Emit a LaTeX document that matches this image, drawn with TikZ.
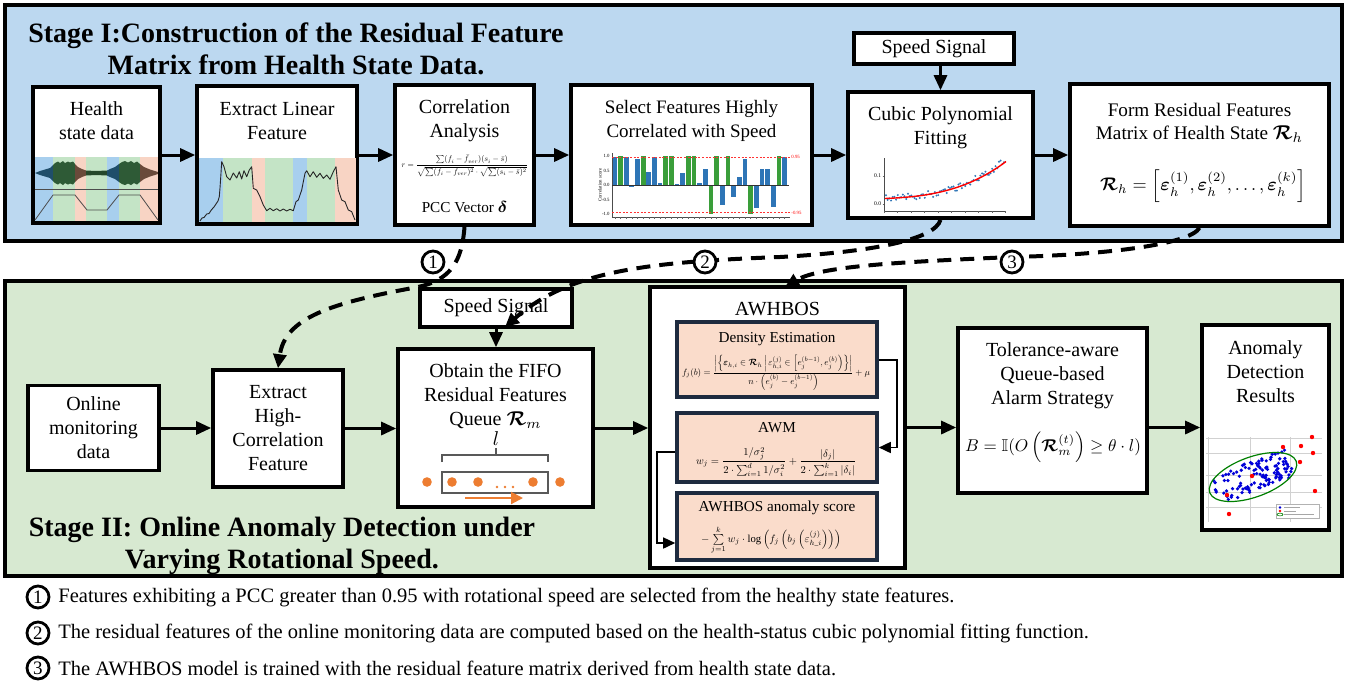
\documentclass[tikz,border=0pt]{standalone}
\usepackage{fontspec}
\setmainfont{Liberation Serif}
\usepackage{amsmath,amssymb,bm,graphicx}
\usetikzlibrary{arrows.meta,calc}

\definecolor{stageone}{HTML}{BCD8F0}
\definecolor{stagetwo}{HTML}{D7E9D1}
\definecolor{peach}{HTML}{FADCCB}
\definecolor{navy}{HTML}{1E2B3F}
\definecolor{bandblue}{HTML}{A8CFEE}
\definecolor{bandgreen}{HTML}{C4E4C6}
\definecolor{bandpink}{HTML}{F8D4C4}
\definecolor{barblue}{HTML}{2E75B6}
\definecolor{bargreen}{HTML}{3A9E3A}
\definecolor{qorange}{HTML}{ED7D31}
\definecolor{waveteal}{HTML}{1F4E6A}
\definecolor{wavegreen}{HTML}{2E5A36}
\definecolor{wavebrown}{HTML}{6A4A3A}

\begin{document}
\begin{tikzpicture}[x=0.5pt,y=-0.5pt,
  stagebox/.style={draw, line width=1.6pt},
  procbox/.style={draw, fill=white, line width=1.8pt, inner sep=0pt, align=center,
                  font=\fontsize{10}{12}\selectfont},
  subbox/.style={draw=navy, fill=peach, line width=1.8pt, inner sep=0pt},
  lbl/.style={align=center, inner sep=0pt, font=\fontsize{10}{12}\selectfont},
  smalllbl/.style={align=center, inner sep=0pt, font=\fontsize{7.6}{9}\selectfont},
  tiny/.style={inner sep=0pt, font=\fontsize{2.4}{2.6}\selectfont},
  arr/.style={line width=1.5pt, -{Triangle[length=7.5pt,width=6.5pt]}},
  thinarr/.style={line width=0.8pt, -{Triangle[length=6pt,width=5.5pt]}},
  dconn/.style={line width=2pt, dash pattern=on 7pt off 4.5pt, -{Triangle[length=7pt,width=6.5pt]}},
  cnum/.style={circle, draw, fill=white, line width=1.4pt, minimum size=11pt, inner sep=0pt,
               font=\fontsize{9.5}{9.5}\selectfont},
  title/.style={align=center, inner sep=0pt, font=\fontsize{14}{16}\selectfont\bfseries},
  foot/.style={anchor=west, inner sep=0pt, font=\fontsize{10.25}{12}\selectfont}
]
\useasboundingbox (0,0) rectangle (1357,682);
\fill[white] (0,0) rectangle (1357,682);

% ---------------- stage frames ----------------
\draw[stagebox, fill=stageone] (5,5) rectangle (1342,241);
\draw[stagebox, fill=stagetwo] (5,281) rectangle (1342,576);

\node[title] (titleone) at (296,49) {Stage I:Construction of the Residual Feature\\Matrix from Health State Data.};
\node[title] (titletwo) at (282,546) {Stage II: Online Anomaly Detection under\\Varying Rotational Speed.};

% ---------------- stage I boxes ----------------
\node[procbox, minimum width=63.5pt, minimum height=68pt] (health) at (96.5,155) {};
\node[procbox, minimum width=80pt, minimum height=69pt] (extract) at (277,155) {};
\node[procbox, minimum width=69.5pt, minimum height=70pt] (corr) at (464.5,155) {};
\node[procbox, minimum width=120.5pt, minimum height=70pt] (select) at (691.5,155) {};
\node[procbox, minimum width=92.5pt, minimum height=63pt] (cubic) at (940.5,155) {};
\node[procbox, minimum width=129.5pt, minimum height=71pt] (form) at (1199.5,155) {};
\node[procbox, minimum width=80pt, minimum height=15.5pt] (speedone) at (934,48.5) {Speed Signal};

\node[lbl] (healthtxt) at (96.5,121) {Health\\state data};
\node[lbl] (extracttxt) at (277,121) {Extract Linear\\Feature};
\node[lbl] (corrtxt) at (464.5,121) {Correlation\\Analysis};
\node[inner sep=0pt] (corrfml) at (464.5,166) {\resizebox{63pt}{!}{$r=\dfrac{\sum(f_i-\bar{f}_{ver})(s_i-\bar{s})}{\sqrt{\sum(f_i-\bar{f}_{ver})^2}\cdot\sqrt{\sum(s_i-\bar{s})^2}}$}};
\node[smalllbl] (pcc) at (464.5,207) {PCC Vector $\boldsymbol{\delta}$};
\node[lbl, font=\fontsize{9.5}{11.6}\selectfont] (selecttxt) at (691.5,121) {Select Features Highly\\Correlated with Speed};
\node[lbl] (cubictxt) at (940.5,127.5) {Cubic Polynomial\\Fitting};
\node[lbl, font=\fontsize{9.6}{11.6}\selectfont] (formtxt) at (1199.5,122.5) {Form Residual Features\\Matrix of Health State $\boldsymbol{\mathcal{R}}_h$};
\node[inner sep=0pt] (formfml) at (1203,186) {\resizebox{103pt}{!}{$\boldsymbol{\mathcal{R}}_h=\left[\boldsymbol{\varepsilon}_h^{(1)},\boldsymbol{\varepsilon}_h^{(2)},\ldots,\boldsymbol{\varepsilon}_h^{(k)}\right]$}};

% health state data: speed phases, vibration signal, speed profile
\fill[bandblue] (35,157) rectangle (53,221);
\fill[bandgreen] (53,157) rectangle (75,221);
\fill[bandpink] (75,157) rectangle (86,221);
\fill[bandgreen] (86,157) rectangle (107,221);
\fill[bandblue] (107,157) rectangle (119,221);
\fill[bandgreen] (119,157) rectangle (140,221);
\fill[bandpink] (140,157) rectangle (158,221);
\begin{scope}
\clip (35,173) -- (40,171) -- (45,169.5) -- (50,168) -- (53,165) -- (55,163) -- (58,161.5) -- (60,163) -- (63,161) -- (65,163) -- (68,161.5) -- (70,162.5) -- (73,161.5) -- (75,164) -- (78,167) -- (82,169) -- (86,170.5) -- (96,171) -- (107,170.5) -- (110,169) -- (115,167) -- (119,164) -- (122,162) -- (125,161) -- (128,162.5) -- (131,161) -- (134,163) -- (137,161.5) -- (140,164) -- (144,167) -- (150,169.5) -- (158,172)
 -- (158,174) -- (150,176.5) -- (144,179) -- (140,182) -- (137,184.5) -- (134,183) -- (131,185) -- (128,183.5) -- (125,185) -- (122,184) -- (119,182) -- (115,179) -- (110,177) -- (107,175.5) -- (96,175) -- (86,175.5) -- (82,177) -- (78,179) -- (75,182) -- (73,184.5) -- (70,183.5) -- (68,184.5) -- (65,183) -- (63,185) -- (60,183) -- (58,184.5) -- (55,183) -- (53,181) -- (50,178) -- (45,176.5) -- (40,175) -- cycle;
\fill[waveteal] (35,150) rectangle (53,200);
\fill[wavegreen] (53,150) rectangle (75,200);
\fill[wavebrown] (75,150) rectangle (86,200);
\fill[wavegreen!80!black] (86,150) rectangle (107,200);
\fill[waveteal] (107,150) rectangle (119,200);
\fill[wavegreen] (119,150) rectangle (140,200);
\fill[wavebrown] (140,150) rectangle (158,200);
\end{scope}
\draw[line width=0.4pt, black!70] (35,189) -- (158,189);
\draw[line width=0.4pt, black!70] (35,220) -- (53,195) -- (75,195) -- (87,210) -- (107,210) -- (119,195) -- (140,195) -- (158,220);

% extracted linear feature over the same phases
\fill[bandblue] (199,158) rectangle (223,222);
\fill[bandgreen] (223,158) rectangle (252,222);
\fill[bandpink] (252,158) rectangle (265,222);
\fill[bandgreen] (265,158) rectangle (293,222);
\fill[bandblue] (293,158) rectangle (307,222);
\fill[bandgreen] (307,158) rectangle (335,222);
\fill[bandpink] (335,158) rectangle (356,222);
\draw[line width=0.45pt, black!85, line join=round] (200,221) -- (202,218) -- (204,217.5) -- (206.7,214) -- (209,213.5) -- (211.7,209.5) -- (214,207) -- (216.7,203) -- (218,201) -- (219.3,196.7) -- (220,188) -- (221,173) -- (221.7,161.7) -- (224,166.7) -- (226.7,176.7) -- (230,180) -- (233.3,173) -- (236.7,178) -- (239.3,171.7) -- (241.7,179) -- (244,170.7) -- (246.7,176.7) -- (249.3,170) -- (251.7,166.7) -- (253.3,188.3) -- (256.7,190) -- (260,196.7) -- (263.3,205) -- (266.7,210.7) -- (270,208.3) -- (273.3,210.7) -- (276.7,208.7) -- (280,211) -- (283.3,209) -- (286.7,211) -- (290,209.3) -- (293.3,210.7) -- (296,201.7) -- (298.3,200) -- (301.7,190) -- (305,173.3) -- (306.7,170.7) -- (310,176.7) -- (313.3,171.7) -- (316.7,177.3) -- (320,173.3) -- (323.3,178.3) -- (326.7,175) -- (330,179.3) -- (333.3,171.7) -- (336,166.7) -- (338.3,190) -- (341.7,200) -- (345,201.7) -- (348.3,210) -- (351.7,211.7) -- (355,220);

% correlation score bar chart
\foreach \v/\c [count=\i] in {0.97/barblue,1/bargreen,0.95/barblue,-0.08/barblue,0.9/barblue,1/bargreen,0.45/barblue,0.98/barblue,0.08/barblue,1/bargreen,1/bargreen,0.02/barblue,0.4/barblue,1/bargreen,1/bargreen,0.08/barblue,0.55/barblue,-1/bargreen,1/bargreen,-0.7/barblue,1/bargreen,-0.4/barblue,0.27/barblue,0.88/barblue,-1/bargreen,-0.8/barblue,0.55/barblue,0.55/barblue,-0.75/barblue,1/bargreen,0.95/barblue}
  \fill[\c] ({612+(\i-1)*5.66+0.5},185) rectangle ({612+(\i-1)*5.66+5.2},{185-29*\v});
\draw[line width=0.35pt, black!70] (612,153) -- (612,217) -- (790,217);
\draw[line width=0.35pt, black!80] (612,185) -- (789,185);
\draw[red!80, line width=0.35pt, dash pattern=on 1pt off 0.8pt] (612,157.4) -- (790,157.4);
\draw[red!80, line width=0.35pt, dash pattern=on 1pt off 0.8pt] (612,212.6) -- (790,212.6);
\foreach \k in {0,...,30} \draw[line width=0.25pt, black!60] ({614.8+\k*5.66},217) -- ({614.8+\k*5.66},218.5);
\foreach \t/\yy [count=\j] in {1.0/156,0.5/170.5,0.0/185,-0.5/199.5,-1.0/214}
  \node[tiny, anchor=east] (ytick\j) at (610,\yy) {\t};
\node[tiny, rotate=90] (yaxtitle) at (600,185) {Correlation score};
\node[tiny, anchor=west, text=red] (upthr) at (791,156.5) {0.95};
\node[tiny, anchor=west, text=red] (lowthr) at (791,213) {-0.95};

% cubic fit of a feature against speed
\draw[line width=0.35pt, black!70] (884,158) -- (884,211) -- (1006,211);
\foreach \k in {0,...,9} \draw[line width=0.25pt, black!60] ({884+\k*13.5},211) -- ({884+\k*13.5},212.5);
\draw[line width=0.25pt, black!60] (882.5,176) -- (884,176);
\draw[line width=0.25pt, black!60] (882.5,204) -- (884,204);
\node[tiny, anchor=east, font=\fontsize{2.8}{3}\selectfont] (cubicya) at (881.5,176) {0.1};
\node[tiny, anchor=east, font=\fontsize{2.8}{3}\selectfont] (cubicyb) at (881.5,204) {0.0};
\pgfmathsetseed{3}
\foreach \k in {0,...,70} {
  \pgfmathsetmacro\tq{\k/70}
  \pgfmathsetmacro\yq{198.5-5*\tq-10*\tq*\tq-22*\tq*\tq*\tq+3.5*rand}
  \fill[barblue] ({886+118*\tq},\yq) circle (0.55pt);
}
\draw[red, line width=0.7pt] plot[domain=0:1, samples=40, smooth] ({885+121*\x},{198.5-5*\x-10*\x*\x-22*\x*\x*\x});

% ---------------- stage II boxes ----------------
\node[procbox, minimum width=65.5pt, minimum height=42.5pt] (online) at (93.5,428) {Online\\monitoring\\data};
\node[procbox, minimum width=65pt, minimum height=58.5pt] (xhc) at (278,428.5) {Extract\\High-\\Correlation\\Feature};
\node[procbox, minimum width=76pt, minimum height=19pt] (speedtwo) at (496,308) {Speed Signal};
\node[procbox, minimum width=97.5pt, minimum height=79pt] (fifo) at (495.5,428) {};
\node[procbox, minimum width=127.5pt, minimum height=140.5pt] (awh) at (777.5,427.5) {};
\node[procbox, minimum width=94.5pt, minimum height=82.5pt] (tol) at (1052.5,410.5) {};
\node[procbox, minimum width=63.5pt, minimum height=102.5pt] (res) at (1265.5,427.5) {};

\node[lbl] (fifotxt) at (495.5,396) {Obtain the FIFO\\Residual Features\\Queue $\boldsymbol{\mathcal{R}}_m$};
\node[lbl] (qlen) at (496,439) {$l$};
\draw[line width=0.8pt, black!65] (442,462) -- (442,455) -- (548,455) -- (548,462);
\draw[line width=0.8pt, black!65] (496,455) -- (496,448);
\draw[line width=1pt, black!65] (442,472) rectangle (548,493);
\foreach \qx in {427,452,478,533,560} \fill[qorange] (\qx,482) circle (2.4pt);
\foreach \qx in {497,505,513} \fill[qorange] (\qx,487) circle (0.7pt);
\draw[qorange, line width=1pt, -{Triangle[length=6pt,width=6pt]}] (465,498) -- (523,498);

% AWHBOS detector and its three stages
\node[lbl] (awhtitle) at (777.5,309) {AWHBOS};
\node[subbox, minimum width=100pt, minimum height=37.5pt] (dens) at (777,359.5) {};
\node[subbox, minimum width=100pt, minimum height=34.5pt] (awm) at (777,447.5) {};
\node[subbox, minimum width=100pt, minimum height=33.5pt] (score) at (777,526.5) {};
\node[smalllbl] (denstxt) at (777,339) {Density Estimation};
\node[inner sep=0pt] (densfml) at (776,373) {\resizebox{94pt}{!}{$f_j(b)=\dfrac{\left|\left\{\boldsymbol{\varepsilon}_{h,i}\in\boldsymbol{\mathcal{R}}_h \,\middle|\, \varepsilon_{h,i}^{(j)}\in\left[e_j^{(b-1)},e_j^{(b)}\right)\right\}\right|}{n\cdot\left(e_j^{(b)}-e_j^{(b-1)}\right)}+\mu$}};
\node[smalllbl] (awmtxt) at (777,428) {AWM};
\node[inner sep=0pt] (awmfml) at (776,462) {\resizebox{80pt}{!}{$w_j=\dfrac{1/\sigma_j^2}{2\cdot\sum_{i=1}^{d}1/\sigma_i^2}+\dfrac{|\delta_j|}{2\cdot\sum_{i=1}^{k}|\delta_i|}$}};
\node[smalllbl] (scoretxt) at (777,508) {AWHBOS anomaly score};
\node[inner sep=0pt] (scorefml) at (771,540) {\resizebox{70pt}{!}{$-\sum\limits_{j=1}^{k} w_j\cdot\log\left(f_j\left(b_j\left(\varepsilon_{h\_i}^{(j)}\right)\right)\right)$}};
\coordinate (densr) at (897,360);
\coordinate (awml) at (657,452);
\draw[thinarr] (dens.east |- densr) -- (densr) -- (densr |- awm.east) -- (awm.east);
\draw[thinarr] (awm.west |- awml) -- (awml) -- (awml |- 0,543) -- (score.west |- 0,543);

% alarm strategy
\node[lbl] (toltxt) at (1052.5,376) {Tolerance-aware\\Queue-based\\Alarm Strategy};
\node[inner sep=0pt] (tolfml) at (1053,447) {\resizebox{88pt}{!}{$B=\mathbb{I}(O\left(\boldsymbol{\mathcal{R}}_m^{(t)}\right)\geq\theta\cdot l)$}};

% detection results scatter plot
\node[lbl] (restxt) at (1265.5,372) {Anomaly\\Detection\\Results};
\foreach \gx in {1208,1250,1290} \draw[black!18, line width=0.3pt] (\gx,437) -- (\gx,522);
\foreach \gy in {438,453,475,492,507} \draw[black!18, line width=0.3pt] (1206,\gy) -- (1322,\gy);
\pgfmathsetseed{11}
\foreach \k in {1,...,115} {
  \pgfmathsetmacro\ua{rand}
  \pgfmathsetmacro\ub{rand}
  \fill[blue!85!black] ({1253+40*\ua*0.94+15*\ub*0.342},{477-40*\ua*0.342+15*\ub*0.94}) circle (0.9pt);
}
\draw[green!50!black, line width=0.6pt, rotate around={20:(1253,477)}] (1253,477) ellipse [x radius=23pt, y radius=10pt];
\foreach \rx/\ry in {1283/447, 1301/446, 1313/453, 1300/462, 1315/491, 1227/495, 1229/514, 1252/476, 1312/437}
  \fill[red] (\rx,\ry) circle (1.1pt);
\draw[black!30, line width=0.3pt, fill=white] (1276,504) rectangle (1319,518);
\fill[blue!85!black] (1280,507.5) circle (0.7pt);
\fill[red] (1280,511) circle (0.7pt);
\draw[green!50!black, line width=0.3pt] (1280,514.5) ellipse [x radius=1.5pt, y radius=0.7pt];
\foreach \ly/\lw in {507.5/16,511/12,514.5/30} \draw[black!35, line width=0.4pt] (1284,\ly) -- ++(\lw,0);

% ---------------- process flow ----------------
\draw[arr] (health.east) -- (extract.west |- health.east);
\draw[arr] (extract.east) -- (corr.west |- extract.east);
\draw[arr] (corr.east) -- (select.west |- corr.east);
\draw[arr] (select.east) -- (cubic.west |- select.east);
\draw[arr] (cubic.east) -- (form.west |- cubic.east);
\draw[arr] (speedone.south -| cubic.north) -- (cubic.north);

\draw[arr] (online.east) -- (xhc.west |- online.east);
\draw[arr] (xhc.east) -- (fifo.west |- xhc.east);
\draw[arr] (speedtwo.south) -- (speedtwo.south |- fifo.north);
\draw[arr] (fifo.east) -- (awh.west |- fifo.east);
\draw[arr] (awh.east) -- (tol.west |- awh.east);
\draw[arr] (tol.east |- res.west) -- (res.west);

% ---------------- links from stage I to stage II ----------------
\coordinate (ctwoend) at (505,327);
\coordinate (cthreeend) at (785,287);
\draw[dconn] (corr.south) .. controls (462,262) and (450,280) .. (418,287) .. controls (330,303) and (285,318) .. (xhc.north);
\draw[dconn] (cubic.south) .. controls (935,240) and (870,252) .. (780,257) .. controls (650,262) and (570,270) .. (ctwoend);
\draw[dconn] (form.south) .. controls (1190,245) and (1100,255) .. (1012,257) .. controls (900,262) and (820,266) .. (cthreeend);
\node[cnum] (markone) at (433,262) {1};
\node[cnum] (marktwo) at (705,262) {2};
\node[cnum] (markthree) at (1012,262) {3};

% ---------------- notes ----------------
\node[cnum] (noteone) at (38,597) {1};
\node[cnum] (notetwo) at (38,633) {2};
\node[cnum] (notethree) at (38,668) {3};
\node[foot] (noteonetxt) at (58,597) {Features exhibiting a PCC greater than 0.95 with rotational speed are selected from the healthy state features.};
\node[foot] (notetwotxt) at (58,633) {The residual features of the online monitoring data are computed based on the health-status cubic polynomial fitting function.};
\node[foot] (notethreetxt) at (58,668) {The AWHBOS model is trained with the residual feature matrix derived from health state data.};
\end{tikzpicture}
\end{document}
